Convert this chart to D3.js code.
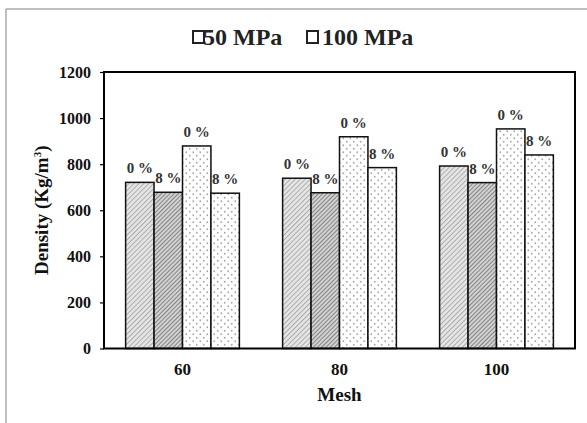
<!DOCTYPE html>
<html><head><meta charset="utf-8">
<script src="https://cdn.jsdelivr.net/npm/d3@7"></script>
<style>body{margin:0;background:#fff}svg{display:block}</style>
</head><body>
<script>
const categories = ["60", "80", "100"];
const seriesNames = ["50 MPa 0 %", "50 MPa 8 %", "100 MPa 0 %", "100 MPa 8 %"];
const barLabels = ["0 %", "8 %", "0 %", "8 %"];
const s50_0 = [721, 739, 792];
const s50_8 = [678, 676, 720];
const s100_0 = [879, 919, 953];
const s100_8 = [674, 785, 840];
const yTicks = [0, 200, 400, 600, 800, 1000, 1200];
const legendLabels = ["50 MPa", "100 MPa"];

const seriesValues = [s50_0, s50_8, s100_0, s100_8];
const W = 587, H = 423;
const svg = d3.select("body").append("svg").attr("width", W).attr("height", H);
const defs = svg.append("defs");

// patterns
function hatch(id, bg, stroke, size, sw) {
  const p = defs.append("pattern").attr("id", id).attr("patternUnits", "userSpaceOnUse")
    .attr("width", size).attr("height", size).attr("patternTransform", "rotate(45)");
  p.append("rect").attr("width", size).attr("height", size).attr("fill", bg);
  p.append("line").attr("x1", 0).attr("y1", 0).attr("x2", 0).attr("y2", size)
    .attr("stroke", stroke).attr("stroke-width", sw);
}
hatch("h1", "#e4e4e4", "#8c8c8c", 3.5, 1.2);
hatch("h2", "#d2d2d2", "#5a5a5a", 3, 1.3);
const dp = defs.append("pattern").attr("id", "dots").attr("patternUnits", "userSpaceOnUse")
  .attr("width", 7).attr("height", 7);
dp.append("rect").attr("width", 7).attr("height", 7).attr("fill", "#fff");
dp.append("circle").attr("cx", 1.75).attr("cy", 1.75).attr("r", 0.9).attr("fill", "#a8a8a8");
dp.append("circle").attr("cx", 5.25).attr("cy", 5.25).attr("r", 0.9).attr("fill", "#a8a8a8");
const fills = ["url(#h1)", "url(#h2)", "url(#dots)", "url(#dots)"];

// outer frame
svg.append("line").attr("x1", 6).attr("y1", 9).attr("x2", W).attr("y2", 9).attr("stroke", "#aaa").attr("stroke-width", 1.5);
svg.append("line").attr("x1", 6).attr("y1", 9).attr("x2", 6).attr("y2", H).attr("stroke", "#aaa").attr("stroke-width", 1.5);

const L = 104, R = 575, T = 72, B = 348.5;
const x0 = d3.scaleBand().domain(categories).range([L, R]).padding(0);
const x1 = d3.scaleBand().domain(seriesNames).range([0, x0.bandwidth()]).paddingInner(0).paddingOuter(0.76);
const y = d3.scaleLinear().domain([0, 1200]).range([B, T]);

const font = "'Liberation Serif', 'Times New Roman', serif";

// bars
const groups = svg.append("g").selectAll("g").data(categories).join("g")
  .attr("transform", d => `translate(${x0(d)},0)`);
groups.each(function(cat, ci) {
  const g = d3.select(this);
  seriesNames.forEach((s, si) => {
    const v = seriesValues[si][ci];
    g.append("rect").attr("x", x1(s)).attr("y", y(v)).attr("width", x1.bandwidth())
      .attr("height", y(0) - y(v)).attr("fill", fills[si]).attr("stroke", "#111").attr("stroke-width", 1.5);
  });
  seriesNames.forEach((s, si) => {
    const v = seriesValues[si][ci];
    g.append("text").attr("x", x1(s) + x1.bandwidth() / 2).attr("y", y(v) - 9)
      .attr("text-anchor", "middle").attr("font-family", font).attr("font-weight", "bold")
      .attr("font-size", 15).attr("fill", "#333").text(barLabels[si]);
  });
});

// box
svg.append("rect").attr("x", L).attr("y", T).attr("width", R - L).attr("height", B - T)
  .attr("fill", "none").attr("stroke", "#000").attr("stroke-width", 2);

// y axis
const yAxis = d3.axisLeft(y).tickValues(yTicks).tickSize(4).tickPadding(9).tickFormat(d3.format("d"));
const ya = svg.append("g").attr("transform", `translate(${L},0)`).call(yAxis);
ya.select(".domain").remove();
ya.selectAll("line").attr("stroke", "#000").attr("stroke-width", 1.2);
ya.selectAll("text").attr("font-family", font).attr("font-weight", "bold").attr("font-size", 16).attr("fill", "#111");

// x axis
const xAxis = d3.axisBottom(x0).tickSize(0).tickPadding(14);
const xa = svg.append("g").attr("transform", `translate(0,${B})`).call(xAxis);
xa.select(".domain").remove();
xa.selectAll("text").attr("font-family", font).attr("font-weight", "bold").attr("font-size", 17).attr("fill", "#111");

// axis titles
svg.append("text").attr("x", (L + R) / 2).attr("y", 401).attr("text-anchor", "middle")
  .attr("font-family", font).attr("font-weight", "bold").attr("font-size", 19).attr("fill", "#111").text("Mesh");
const yt = svg.append("text").attr("transform", `translate(48,${(T + B) / 2}) rotate(-90)`)
  .attr("text-anchor", "middle").attr("font-family", font).attr("font-weight", "bold")
  .attr("font-size", 19).attr("fill", "#111");
yt.append("tspan").text("Density (Kg/m");
yt.append("tspan").attr("font-size", 11).attr("dy", -7).text("3");
yt.append("tspan").attr("dy", 7).text(")");

// legend
const legX = [193, 307];
const legTextOff = [10, 15];
legendLabels.forEach((lab, i) => {
  svg.append("rect").attr("x", legX[i]).attr("y", 31).attr("width", 11).attr("height", 12)
    .attr("fill", "#fff").attr("stroke", "#222").attr("stroke-width", 2);
  svg.append("text").attr("x", legX[i] + legTextOff[i]).attr("y", 45).attr("font-family", font)
    .attr("font-weight", "bold").attr("font-size", 24).attr("fill", "#222").text(lab);
});
</script>
</body></html>
